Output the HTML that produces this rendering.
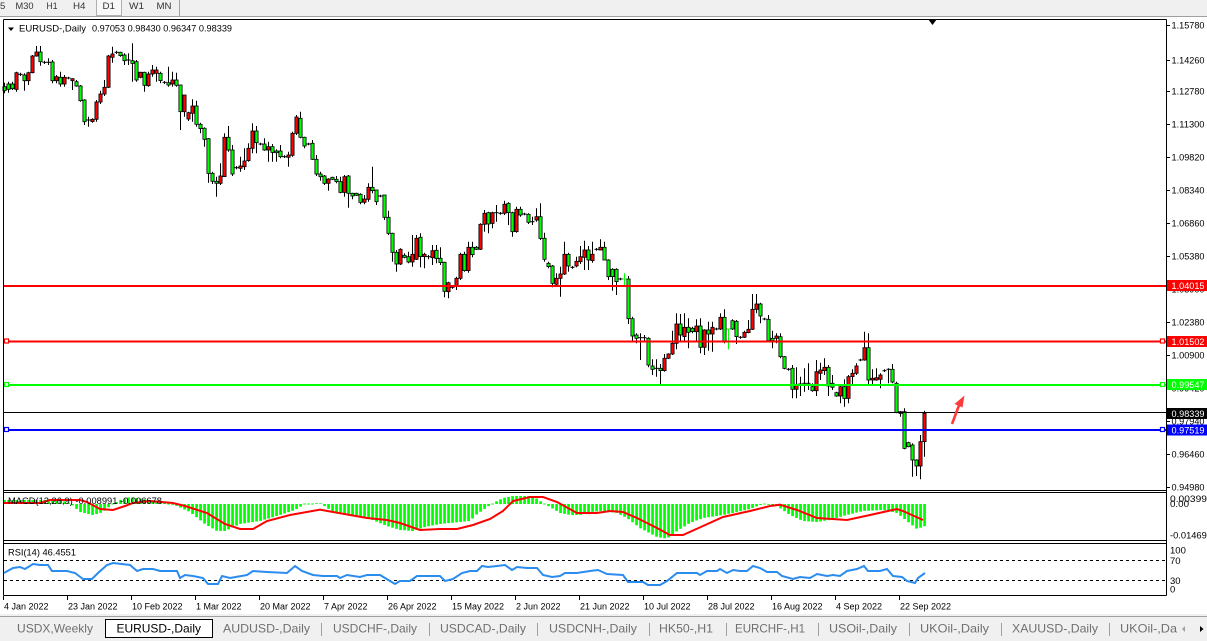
<!DOCTYPE html>
<html><head><meta charset="utf-8"><style>
html,body{margin:0;padding:0;background:#fff;}
svg{display:block;font-family:"Liberation Sans",Arial,sans-serif;}
</style></head><body>
<svg id="s" width="1207" height="641" viewBox="0 0 1207 641" xmlns="http://www.w3.org/2000/svg">
<rect x="0" y="0" width="1207" height="641" fill="#fff"/>
<!-- toolbar -->
<rect x="0" y="0" width="1207" height="16" fill="#f0f0f0"/>
<line x1="0" y1="16.5" x2="1207" y2="16.5" stroke="#a0a0a0"/>
<rect x="96.5" y="-1" width="25" height="16.5" fill="#f8f8f8" stroke="#b0b0b0"/>
<line x1="179.5" y1="0" x2="179.5" y2="16" stroke="#a0a0a0"/>
<g font-size="9.5" fill="#333">
<text x="0" y="9">5</text>
<text x="15.5" y="9" textLength="18" lengthAdjust="spacingAndGlyphs">M30</text>
<text x="46.5" y="9" textLength="11" lengthAdjust="spacingAndGlyphs">H1</text>
<text x="73" y="9" textLength="12.5" lengthAdjust="spacingAndGlyphs">H4</text>
<text x="102.5" y="9" textLength="12.5" lengthAdjust="spacingAndGlyphs">D1</text>
<text x="129" y="9" textLength="15" lengthAdjust="spacingAndGlyphs">W1</text>
<text x="156.5" y="9" textLength="15" lengthAdjust="spacingAndGlyphs">MN</text>
</g>
<!-- chart groups -->
<g id="macd"></g>
<g id="cand"></g>
<g id="objs"></g>
<!-- frames -->
<g stroke="#000" stroke-width="1" fill="none">
<line x1="3.5" y1="19.5" x2="1166.5" y2="19.5"/>
<line x1="3.5" y1="490.5" x2="1166.5" y2="490.5"/>
<line x1="3.5" y1="492.5" x2="1166.5" y2="492.5"/>
<line x1="3.5" y1="540.5" x2="1166.5" y2="540.5"/>
<line x1="3.5" y1="543.5" x2="1166.5" y2="543.5"/>
<line x1="3.5" y1="595.5" x2="1166.5" y2="595.5"/>
<line x1="3.5" y1="19.5" x2="3.5" y2="595.5"/>
<line x1="1166.5" y1="19.5" x2="1166.5" y2="595.5"/>
</g>
<!-- RSI dashed levels -->
<line x1="4" y1="560.5" x2="1166" y2="560.5" stroke="#000" stroke-dasharray="3,3"/>
<line x1="4" y1="580.5" x2="1166" y2="580.5" stroke="#000" stroke-dasharray="3,3"/>
<g id="rsi"></g>
<!-- shift triangle -->
<polygon points="928,19 937,19 932.5,25" fill="#000"/>
<!-- header -->
<polygon points="8,27.5 14,27.5 11,31" fill="#000"/>
<text x="19" y="31.5" font-size="9.5" fill="#000" textLength="67" lengthAdjust="spacingAndGlyphs">EURUSD-,Daily</text>
<text x="92" y="31.5" font-size="9.5" fill="#000" textLength="140" lengthAdjust="spacingAndGlyphs">0.97053 0.98430 0.96347 0.98339</text>
<text x="8" y="504" font-size="9.5" fill="#000" textLength="154" lengthAdjust="spacingAndGlyphs">MACD(12,26,9) -0.008991 -0.006678</text>
<text x="8" y="555.5" font-size="9.5" fill="#000" textLength="68" lengthAdjust="spacingAndGlyphs">RSI(14) 46.4551</text>
<g id="axis"></g>
<!-- arrow -->
<line x1="952" y1="424" x2="959.5" y2="404" stroke="#ff3a3a" stroke-width="2.6"/>
<polygon points="964.5,395.5 954.5,404 962.5,407.5" fill="#ff3a3a"/>
<!-- tab bar -->
<rect x="0" y="614" width="1207" height="27" fill="#f0f0f0"/>
<line x1="0" y1="616.5" x2="1207" y2="616.5" stroke="#a0a0a0"/>
<rect x="105.5" y="619.5" width="107" height="18" fill="#fff" stroke="#000"/>
<g stroke="#a0a0a0">
<line x1="321.5" y1="623" x2="321.5" y2="636"/>
<line x1="429.5" y1="623" x2="429.5" y2="636"/>
<line x1="537.5" y1="623" x2="537.5" y2="636"/>
<line x1="649.5" y1="623" x2="649.5" y2="636"/>
<line x1="726.5" y1="623" x2="726.5" y2="636"/>
<line x1="818.5" y1="623" x2="818.5" y2="636"/>
<line x1="909.5" y1="623" x2="909.5" y2="636"/>
<line x1="1001.5" y1="623" x2="1001.5" y2="636"/>
<line x1="1109.5" y1="623" x2="1109.5" y2="636"/>
</g>
<g font-size="12" fill="#707070">
<text x="17" y="632.5" textLength="76" lengthAdjust="spacingAndGlyphs">USDX,Weekly</text>
<text x="116.5" y="632.5" fill="#000" textLength="84.5" lengthAdjust="spacingAndGlyphs">EURUSD-,Daily</text>
<text x="223" y="632.5" textLength="87" lengthAdjust="spacingAndGlyphs">AUDUSD-,Daily</text>
<text x="333" y="632.5" textLength="84" lengthAdjust="spacingAndGlyphs">USDCHF-,Daily</text>
<text x="440" y="632.5" textLength="86" lengthAdjust="spacingAndGlyphs">USDCAD-,Daily</text>
<text x="549" y="632.5" textLength="88" lengthAdjust="spacingAndGlyphs">USDCNH-,Daily</text>
<text x="659" y="632.5" textLength="54" lengthAdjust="spacingAndGlyphs">HK50-,H1</text>
<text x="735" y="632.5" textLength="70" lengthAdjust="spacingAndGlyphs">EURCHF-,H1</text>
<text x="829" y="632.5" textLength="68" lengthAdjust="spacingAndGlyphs">USOil-,Daily</text>
<text x="920" y="632.5" textLength="69" lengthAdjust="spacingAndGlyphs">UKOil-,Daily</text>
<text x="1012" y="632.5" textLength="86" lengthAdjust="spacingAndGlyphs">XAUUSD-,Daily</text>
<text x="1120" y="632.5" textLength="57" lengthAdjust="spacingAndGlyphs">UKOil-,Da</text>
</g>
<polygon points="1185,626 1185,632 1182,629" fill="#a0a0a0"/>
<polygon points="1200,626 1200,632 1203.5,629" fill="#000"/>
</svg>
<script>
(function(){
var A=`0 g 200 212 188 220
1 g 192 208 185 218
2 g 192 206 185 210
3 r 158 208 155 215
4 d 163 163 158 168
5 g 165 182 160 212
6 r 158 182 155 195
7 r 108 158 105 160
8 r 96 108 78 110
9 g 96 125 78 137
10 d 127 127 122 132
11 d 127 127 115 135
12 g 126 182 120 190
13 r 170 182 165 190
14 g 172 192 155 200
15 r 172 192 165 200
16 d 174 174 170 178
17 r 176 182 175 210
18 g 185 198 180 200
19 g 198 242 195 245
20 g 240 305 238 315
21 d 300 300 290 320
22 r 298 305 295 308
23 r 246 298 240 305
24 r 222 246 212 252
25 r 202 222 180 228
26 r 108 202 105 204
27 r 102 112 80 128
28 d 97 97 92 102
29 g 97 107 95 110
30 g 105 122 100 135
31 d 120 120 100 135
32 g 122 130 70 185
33 g 125 180 120 185
34 r 157 172 155 175
35 g 157 196 155 215
36 r 162 197 155 200
37 r 150 162 135 170
38 r 150 160 140 185
39 g 160 182 155 190
40 d 187 187 183 192
41 g 188 195 140 200
42 r 180 192 155 200
43 g 180 196 158 200
44 g 195 275 195 330
45 r 225 275 225 290
46 r 278 297 275 303
47 r 258 280 238 305
48 g 258 313 242 320
49 g 313 326 308 340
50 g 325 358 322 380
51 g 356 460 354 488
52 g 460 484 455 492
53 g 484 490 470 530
54 r 468 490 430 495
55 r 352 470 340 470
56 g 352 390 318 395
57 g 390 462 375 468
58 d 443 443 438 448
59 r 438 445 410 455
60 r 423 440 385 450
61 r 385 422 370 425
62 r 333 385 310 400
63 g 333 368 318 400
64 d 372 372 368 376
65 g 372 390 355 392
66 r 380 390 365 425
67 g 380 397 372 425
68 g 393 398 388 425
69 g 393 410 375 415
70 d 410 410 406 414
71 r 405 412 395 440
72 r 340 406 335 410
73 r 291 340 285 345
74 g 295 352 275 355
75 g 352 378 350 385
76 d 372 372 368 376
77 g 370 418 360 420
78 g 418 462 405 468`;
var B=`79 g 42 50 35 62
80 g 48 70 45 75
81 r 57 70 55 92
82 g 52 58 50 60
83 g 58 65 48 70
84 g 65 97 50 100
85 r 50 97 45 110
86 g 48 100 45 143
87 g 100 108 98 118
88 g 100 106 98 108
89 g 103 127 100 133
90 r 117 127 105 133
91 r 82 118 70 125
92 g 82 92 20 100
93 g 90 125 90 135
94 d 108 108 104 112
95 g 105 172 105 180
96 g 172 220 152 225
97 g 220 277 218 305
98 g 277 312 270 335
99 r 268 312 265 315
100 g 286 292 280 295
101 g 290 306 275 310
102 r 283 306 225 320
103 r 235 298 225 300
104 g 232 290 220 322
105 r 283 290 278 325
106 d 290 290 285 298
107 r 272 293 255 315
108 g 271 296 255 310
109 g 295 308 262 315
110 g 307 394 305 412
111 r 368 395 365 415
112 d 382 382 378 386
113 r 355 380 350 390
114 r 283 355 278 360
115 g 283 332 275 335
116 r 262 332 245 338
117 g 262 284 245 292
118 g 262 268 258 270
119 r 193 268 190 270
120 r 160 193 150 215
121 g 158 192 155 220
122 r 158 190 155 205
123 d 158 158 135 185
124 d 160 160 156 164
125 r 133 160 122 165
126 g 130 158 127 195
127 g 158 215 155 230
128 r 148 215 140 218
129 g 148 165 140 170
130 d 162 162 158 166
131 g 163 187 160 192
132 d 185 185 170 195
133 r 170 180 145 185
134 g 170 235 130 240
135 g 235 298 218 305
136 g 310 320 305 325
137 g 318 370 315 382
138 r 355 373 340 380
139 r 342 355 320 410
140 r 283 342 245 345
141 g 283 318 278 335
142 d 322 322 318 326
143 r 304 318 290 322
144 r 290 305 258 312
145 r 270 292 242 330
146 g 270 300 258 330
147 r 283 302 245 308
148 d 268 268 264 272
149 r 262 270 238 270
150 g 262 300 245 300
151 g 300 350 298 360
152 g 328 350 325 392
153 g 328 365 325 405
154 d 357 357 353 361
155 L 357 357 340 375
156 g 357 476 348 492
157 g 476 528 470 545`;
var C=`158 g 165 175 160 190
159 d 173 173 160 240
160 d 173 173 165 185
161 g 175 255 172 262
162 g 258 268 238 285
163 d 265 265 238 290
164 g 265 272 252 318
165 r 235 272 222 275
166 r 222 235 220 237
167 r 190 222 152 225
168 r 132 190 100 208
169 g 132 165 102 185
170 r 142 170 100 185
171 g 142 157 115 205
172 g 145 155 140 160
173 r 138 155 118 185
174 g 138 202 115 220
175 r 150 202 148 225
176 g 150 162 125 212
177 r 142 162 125 215
178 d 147 147 143 151
179 r 112 147 100 150
180 g 112 185 88 190
181 L 147 147 147 208
182 g 122 147 118 150
183 g 124 170 120 192
184 d 172 172 168 176
185 r 157 172 152 174
186 r 148 158 120 160
187 r 88 148 42 150
188 r 72 88 42 100
189 g 72 108 68 130
190 d 117 117 113 121
191 g 118 182 105 185
192 g 175 182 152 205
193 r 168 175 160 190
194 g 170 230 160 235
195 g 230 265 228 268
196 d 268 268 264 272
197 g 265 328 255 355
198 r 313 328 262 355
199 d 312 312 290 348
200 d 310 310 265 335
201 d 310 310 250 330
202 g 320 332 310 335
203 r 275 332 240 348
204 r 270 280 248 300
205 r 262 272 235 285
206 g 262 318 255 348
207 g 310 322 285 330
208 g 338 348 335 350
209 r 320 348 315 370
210 g 320 355 298 380
211 r 290 355 285 370
212 r 280 290 268 315
213 r 258 280 250 285
214 d 240 240 236 244
215 r 203 240 155 242
216 g 203 300 160 312
217 r 295 300 268 312
218 r 293 300 265 302
219 r 285 298 280 325
220 d 272 272 268 276
221 d 268 268 265 310
222 g 268 306 252 310
223 g 310 398 305 400
224 r 395 400 393 410
225 g 395 505 385 508
226 g 488 500 485 502
227 g 495 540 490 590
228 g 540 558 538 588
229 r 485 558 465 598
230 r 400 485 392 530`;
var bars=[];
function seg(s,off){s.split('\n').forEach(function(ln){var p=ln.trim().split(/\s+/);if(p.length<6)return;var i=+p[0];bars[i]={t:p[1],a:off+p[2]/3,b:off+p[3]/3,h:off+p[4]/3,l:off+p[5]/3};});}
seg(A,20);seg(B,160);seg(C,280);
var o='';
bars.forEach(function(d,i){if(!d)return;var cx=4.5+4*i;var top=Math.min(d.a,d.b),bot=Math.max(d.a,d.b);var h=Math.min(d.h,top),l=Math.max(d.l,bot);
if(d.t==='L'){o+='<line x1="'+cx+'" y1="'+h.toFixed(1)+'" x2="'+cx+'" y2="'+l.toFixed(1)+'" stroke="#00ff00"/>';o+='<line x1="'+(cx-2)+'" y1="'+top.toFixed(1)+'" x2="'+(cx+2)+'" y2="'+top.toFixed(1)+'" stroke="#00ff00"/>';return;}
o+='<line x1="'+cx+'" y1="'+h.toFixed(1)+'" x2="'+cx+'" y2="'+l.toFixed(1)+'" stroke="#000"/>';
if(d.t==='d'){o+='<line x1="'+(cx-2)+'" y1="'+top.toFixed(1)+'" x2="'+(cx+2)+'" y2="'+top.toFixed(1)+'" stroke="#000"/>';}
else{var hh=Math.max(bot-top,1.5);o+='<rect x="'+(cx-1.6)+'" y="'+top.toFixed(1)+'" width="3.2" height="'+hh.toFixed(1)+'" fill="'+(d.t==='r'?'#ff0000':'#00ff00')+'" stroke="#000" stroke-width="0.8"/>';}
});
document.getElementById('cand').innerHTML=o;
// objects
var ob='';
ob+='<line x1="4" y1="286" x2="1166" y2="286" stroke="#ff0000" stroke-width="2"/>';
ob+='<line x1="4" y1="341.5" x2="1166" y2="341.5" stroke="#ff0000" stroke-width="2"/>';
ob+='<line x1="4" y1="385" x2="1166" y2="385" stroke="#00ff00" stroke-width="2"/>';
ob+='<line x1="4" y1="412.5" x2="1166" y2="412.5" stroke="#000" stroke-width="1"/>';
ob+='<line x1="4" y1="430" x2="1166" y2="430" stroke="#0000ff" stroke-width="2"/>';
[[341.5,'#ff0000'],[385,'#00ff00'],[430,'#0000ff']].forEach(function(m){
ob+='<rect x="4.5" y="'+(m[0]-2.5)+'" width="4" height="4" fill="#fff" stroke="'+m[1]+'" stroke-width="1.2"/>';
ob+='<rect x="1160.5" y="'+(m[0]-2.5)+'" width="4" height="4" fill="#fff" stroke="'+m[1]+'" stroke-width="1.2"/>';});
document.getElementById('objs').innerHTML=ob;
// MACD histogram
var hk=[[0,500],[60,500],[70,503],[80,512],[93,515],[103,512],[110,506],[120,500],[130,497],[150,500],[165,503],[177,506],[190,512],[205,524],[217,531],[225,531],[240,524],[260,521],[280,515],[295,510],[305,504],[320,503],[333,512],[350,515],[370,519],[387,526],[400,530],[413,531],[425,527],[440,524],[460,522],[470,521],[477,514],[483,510],[490,505],[497,501],[503,498],[513,496],[533,496],[540,501],[550,507],[560,513],[570,515],[580,515],[590,512],[603,511],[617,513],[627,518],[640,528],[657,537],[667,538.7],[677,531],[690,523],[703,518],[723,515],[737,512],[750,509],[763,504],[777,506],[790,515],[803,521],[817,522],[830,520],[843,516],[863,511],[883,510],[897,513],[907,521],[917,529],[925,526]];
function interp(k,x){for(var j=0;j<k.length-1;j++){if(x>=k[j][0]&&x<=k[j+1][0]){var t=(x-k[j][0])/(k[j+1][0]-k[j][0]);return k[j][1]+t*(k[j+1][1]-k[j][1]);}}return k[k.length-1][1];}
var m='';var z=504;
for(var i=0;i<=230;i++){var cx=4.5+4*i;var y=interp(hk,cx);var t=Math.min(y,z),b=Math.max(y,z);if(b-t<0.6){t=z-0.5;b=z+0.5;}
m+='<rect x="'+(cx-1.3)+'" y="'+t.toFixed(1)+'" width="2.7" height="'+(b-t).toFixed(1)+'" fill="#00ff00"/>';}
var sig=[[4,503],[40,503],[50,500],[80,500],[87,502],[100,509],[113,510],[125,506],[133,503],[150,501],[173,503],[185,506],[207,513],[225,524],[240,529],[253,529],[267,521],[290,515],[320,509.7],[333,512],[367,518],[387,520],[400,523],[420,530],[440,529],[457,529],[473,525],[490,519],[503,511],[513,501],[530,497],[543,497],[557,502],[577,513],[597,513],[610,511],[623,512],[637,518],[657,528],[670,535],[683,535],[703,526],[723,517],[750,511],[770,506],[780,504.7],[797,510],[817,518],[847,520],[870,515],[897,509],[903,511],[923,520]];
m+='<polyline fill="none" stroke="#ff0000" stroke-width="2" points="'+sig.map(function(p){return p[0]+','+p[1];}).join(' ')+'"/>';
document.getElementById('macd').innerHTML=m;
// RSI
var r=[[4,573],[13,568],[20,567],[25,569],[33,564],[40,565],[48,565],[52,571],[67,571],[75,573],[83,579],[92,579],[98,573],[107,565],[113,563],[130,565],[137,571],[143,569],[153,569],[160,571],[177,571],[180,578],[185,575],[193,576],[203,578],[208,584],[218,584],[222,576],[230,578],[247,575],[253,571],[267,572],[287,573],[295,566],[302,571],[313,575],[323,576],[337,576],[340,578],[347,575],[360,577],[367,575],[380,575],[390,581],[395,584],[400,581],[410,581],[417,576],[440,576],[445,581],[453,579],[462,573],[470,571],[477,571],[482,566],[488,567],[497,566],[505,565],[512,570],[517,567],[527,568],[537,568],[543,575],[552,577],[560,576],[565,573],[577,573],[590,571],[598,570],[607,574],[623,575],[628,582],[643,582],[648,585],[660,585],[667,581],[677,573],[697,573],[700,575],[707,571],[717,571],[720,569],[727,573],[733,570],[740,571],[747,571],[753,566],[760,568],[767,572],[777,572],[782,576],[793,579],[800,577],[810,578],[817,574],[827,576],[833,575],[840,576],[847,571],[857,569],[864,566],[868,571],[880,571],[887,569],[893,576],[902,577],[907,581],[915,583],[918,578],[925,573]];
document.getElementById('rsi').innerHTML='<polyline fill="none" stroke="#2b8cf0" stroke-width="2" points="'+r.map(function(p){return p[0]+','+p[1];}).join(' ')+'"/>';
// axis
var ax='';
var pl=[["1.15780",25],["1.14260",60],["1.12780",91],["1.11300",124],["1.09820",157],["1.08340",190],["1.06860",223],["1.05380",256],["1.03900",289],["1.02380",322],["1.00900",355],["0.99420",388],["0.97940",421],["0.96460",454],["0.94980",487]];
pl.forEach(function(p){ax+='<line x1="1167" y1="'+(p[1]+0.5)+'" x2="1170" y2="'+(p[1]+0.5)+'" stroke="#000"/>';ax+='<text x="1171.5" y="'+(p[1]+3.6)+'" font-size="9.5" fill="#000" textLength="33" lengthAdjust="spacingAndGlyphs">'+p[0]+'</text>';});
var bx=[["1.04015",285.5,"#ff0000"],["1.01502",341.5,"#ff0000"],["0.99547",384.5,"#00ff00"],["0.98339",413.5,"#000000"],["0.97519",430,"#0000ff"]];
bx.forEach(function(b){ax+='<rect x="1167" y="'+(b[1]-5.5)+'" width="40" height="11" fill="'+b[2]+'"/>';ax+='<text x="1171.5" y="'+(b[1]+3.6)+'" font-size="9.5" fill="#fff" textLength="33" lengthAdjust="spacingAndGlyphs">'+b[0]+'</text>';});
// macd / rsi axis labels
ax+='<text x="1170" y="502" font-size="9.5" fill="#000" textLength="37" lengthAdjust="spacingAndGlyphs">0.00399</text>';
ax+='<text x="1170" y="507" font-size="9.5" fill="#000" textLength="19" lengthAdjust="spacingAndGlyphs">0.00</text>';
ax+='<text x="1170" y="538.5" font-size="9.5" fill="#000" textLength="42" lengthAdjust="spacingAndGlyphs">-0.014693</text>';
ax+='<text x="1170" y="553.5" font-size="9.5" fill="#000">100</text>';
ax+='<text x="1170" y="564" font-size="9.5" fill="#000">70</text>';
ax+='<text x="1170" y="584" font-size="9.5" fill="#000">30</text>';
ax+='<text x="1170" y="592.5" font-size="9.5" fill="#000">0</text>';
// date axis
var dl=["4 Jan 2022","23 Jan 2022","10 Feb 2022","1 Mar 2022","20 Mar 2022","7 Apr 2022","26 Apr 2022","15 May 2022","2 Jun 2022","21 Jun 2022","10 Jul 2022","28 Jul 2022","16 Aug 2022","4 Sep 2022","22 Sep 2022"];
dl.forEach(function(s,k){var x=3.5+64*k;ax+='<line x1="'+x+'" y1="596" x2="'+x+'" y2="600" stroke="#000"/>';ax+='<text x="'+(x+0.5)+'" y="609.3" font-size="9" fill="#000">'+s+'</text>';});
document.getElementById('axis').innerHTML=ax;
})();
</script>
</body></html>
